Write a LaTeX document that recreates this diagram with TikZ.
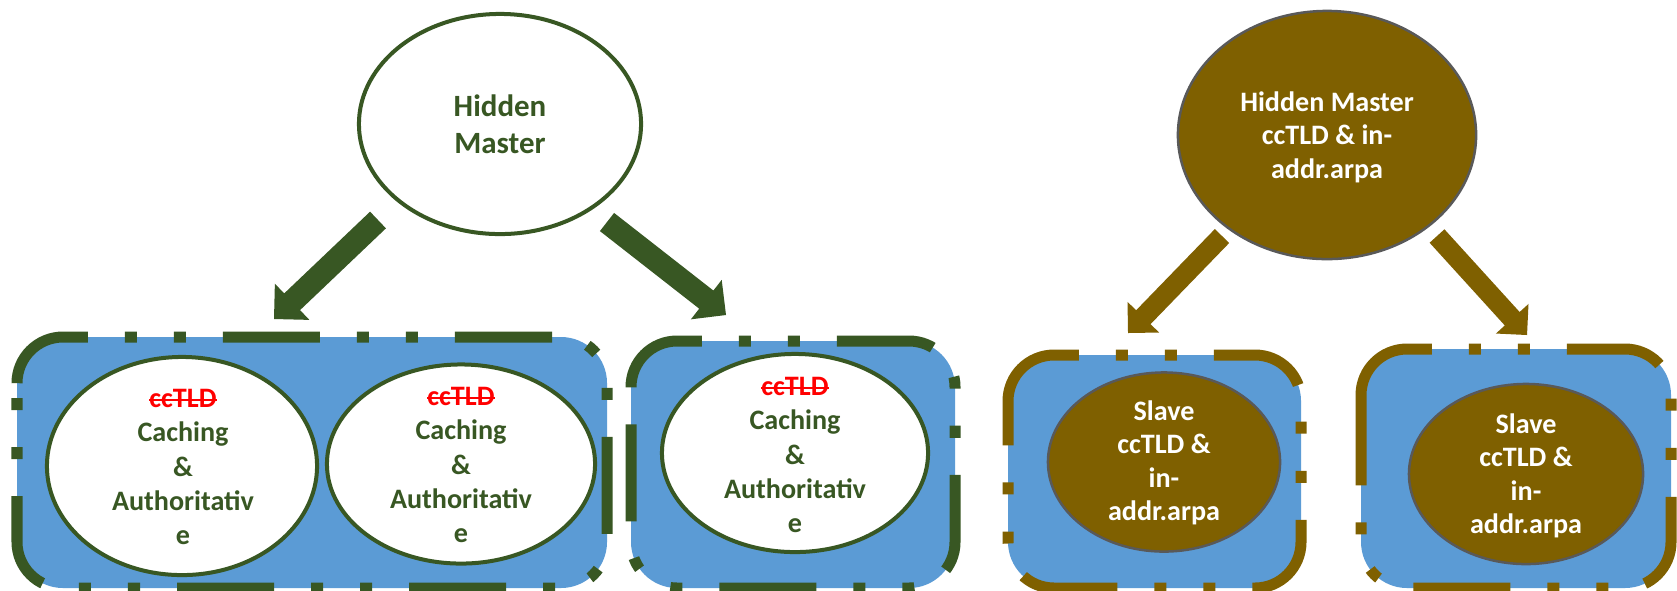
\documentclass[tikz,border=0pt]{standalone}
\usepackage{fontspec}
\setmainfont{Carlito}
\usetikzlibrary{shapes.geometric,calc}
\definecolor{dgreen}{HTML}{385723}
\definecolor{boxblue}{HTML}{5B9BD5}
\definecolor{mybrown}{HTML}{7F6000}
\definecolor{grayline}{HTML}{595959}
\definecolor{strkred}{HTML}{FF0000}
\newlength\strklen
\newcommand\strk[1]{{\color{strkred}\settowidth\strklen{#1}\makebox[0pt][l]{#1}\rule[0.25em]{\strklen}{0.075em}}}
% block arrow: #1 tail, #2 tip, #3 half shaft width, #4 half head width, #5 colour
\newcommand\blockarr[5]{%
  \path ($(#2)!#4!(#1)$) coordinate (bb);
  \fill[#5] ($(#1)!#3!90:(#2)$) -- ($(bb)!#3!90:(#2)$) -- ($(bb)!#4!90:(#2)$) -- (#2)
     -- ($(bb)!#4!-90:(#2)$) -- ($(bb)!#3!-90:(#2)$) -- ($(#1)!#3!-90:(#2)$) -- cycle;
}
\begin{document}
\begin{tikzpicture}[x=0.01cm,y=-0.01cm,
  boxline/.style={line width=0.11cm, line cap=butt,
    dash pattern=on 0.97cm off 0.37cm on 0.12cm off 0.37cm on 0.12cm off 0.37cm,
    rounded corners=0.46cm, fill=boxblue},
  greenbox/.style={boxline, draw=dgreen},
  brownbox/.style={boxline, draw=mybrown},
  whiteell/.style={ellipse, draw=dgreen, line width=0.04cm, fill=white, inner sep=0pt},
  brownell/.style={ellipse, draw=grayline, line width=0.025cm, fill=mybrown, inner sep=0pt},
  greentext/.style={align=center, text=dgreen, inner sep=0pt, font=\bfseries\fontsize{8}{9.7}\selectfont},
  whitetext/.style={align=center, text=white, inner sep=0pt, font=\bfseries\fontsize{8}{9.5}\selectfont}]
\useasboundingbox (0,0) rectangle (1677,590);
\fill[white] (0,0) rectangle (1677,590);
\clip (0,0) rectangle (1677,590);

% boxes (path starts where the top-left corner arc begins, clockwise)
\draw[greenbox] (17,383) -- (17,337) -- (607,337) -- (607,588) -- (17,588) -- (17,383);
\draw[greenbox] (631,387) -- (631,341) -- (955,341) -- (955,588) -- (631,588) -- (631,387);
\draw[brownbox] (1008,401) -- (1008,355) -- (1301,355) -- (1301,588) -- (1008,588) -- (1008,401);
\draw[brownbox] (1361,395) -- (1361,349) -- (1671,349) -- (1671,588) -- (1361,588) -- (1361,395);

% top ellipses
\node[whiteell, minimum width=2.82cm, minimum height=2.20cm] (hm) at (500,124) {};
\node[greentext, font=\bfseries\fontsize{8.8}{10.5}\selectfont] (hmt) at (hm.center) {Hidden\\Master};
\node[brownell, minimum width=2.98cm, minimum height=2.48cm] (bm) at (1327,135) {};
\node[whitetext] (bmt) at (1327,137) {Hidden Master\\ccTLD \& in-\\addr.arpa};

% inner ellipses
\node[whiteell, minimum width=2.70cm, minimum height=2.18cm] (ea) at (182,466) {};
\node[greentext] (eat) at (183,467) {\strk{ccTLD}\\Caching\\\&\\Authoritativ\\e};
\node[whiteell, minimum width=2.68cm, minimum height=1.99cm] (eb) at (461,464) {};
\node[greentext] (ebt) at (461,465) {\strk{ccTLD}\\Caching\\\&\\Authoritativ\\e};
\node[whiteell, minimum width=2.66cm, minimum height=1.98cm] (ec) at (795,453) {};
\node[greentext] (ect) at (795,455) {\strk{ccTLD}\\Caching\\\&\\Authoritativ\\e};
\node[brownell, minimum width=2.32cm, minimum height=1.79cm] (sa) at (1164,462) {};
\node[whitetext] (sat) at (1164,463) {Slave\\ccTLD \&\\in-\\addr.arpa};
\node[brownell, minimum width=2.34cm, minimum height=1.80cm] (sb) at (1526,474) {};
\node[whitetext] (sbt) at (1526,476) {Slave\\ccTLD \&\\in-\\addr.arpa};

% arrows
\coordinate (g1t) at (378,220); \coordinate (g1p) at (274,319);
\coordinate (g2t) at (607,222); \coordinate (g2p) at (726,315);
\coordinate (b1t) at (1222,236); \coordinate (b1p) at (1128,333);
\coordinate (b2t) at (1437,236); \coordinate (b2p) at (1527,335);
\blockarr{g1t}{g1p}{0.115cm}{0.25cm}{dgreen}
\blockarr{g2t}{g2p}{0.115cm}{0.25cm}{dgreen}
\blockarr{b1t}{b1p}{0.10cm}{0.22cm}{mybrown}
\blockarr{b2t}{b2p}{0.10cm}{0.22cm}{mybrown}
\end{tikzpicture}
\end{document}
